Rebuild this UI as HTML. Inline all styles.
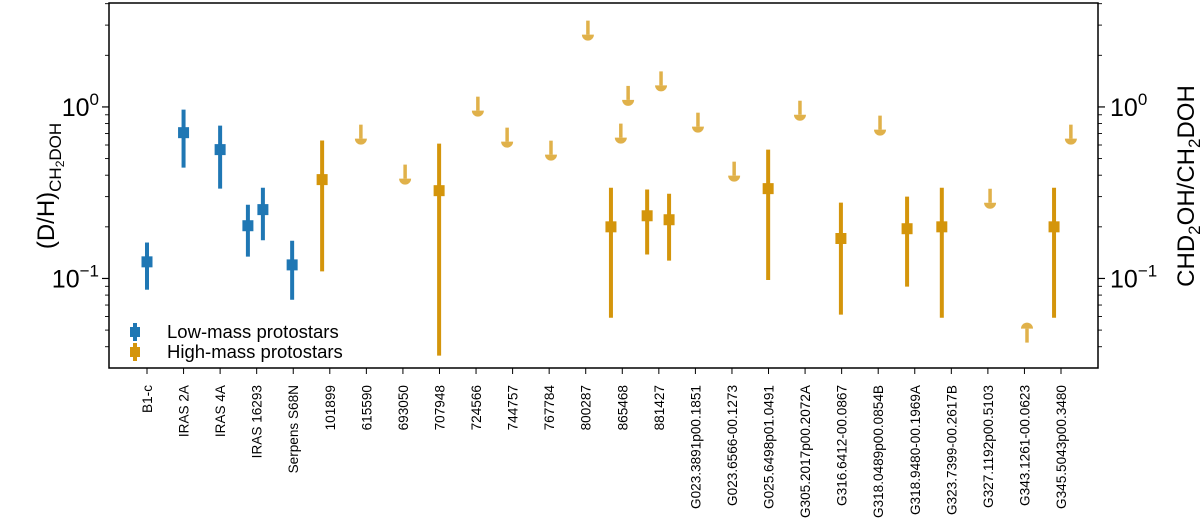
<!DOCTYPE html>
<html><head><meta charset="utf-8"><style>
html,body{margin:0;padding:0;background:#fff;}
svg{display:block;font-family:"Liberation Sans","DejaVu Sans",sans-serif;}
</style></head><body>
<svg id="chart" width="1200" height="527"></svg>
<script>
const categories=["B1-c","IRAS 2A","IRAS 4A","IRAS 16293","Serpens S68N","101899","615590","693050","707948","724566","744757","767784","800287","865468","881427","G023.3891p00.1851","G023.6566-00.1273","G025.6498p01.0491","G305.2017p00.2072A","G316.6412-00.0867","G318.0489p00.0854B","G318.9480-00.1969A","G323.7399-00.2617B","G327.1192p00.5103","G343.1261-00.0623","G345.5043p00.3480"];
const lowPos=[0,1,2,2.76,3.17,3.97];
const lowVal=[0.125,0.708,0.564,0.203,0.252,0.120];
const lowLo=[0.086,0.443,0.334,0.134,0.167,0.0752];
const lowHi=[0.162,0.965,0.778,0.269,0.338,0.166];
const highPos=[4.79,7.99,12.69,13.68,14.28,16.99,18.98,20.79,21.74,24.81];
const highVal=[0.377,0.325,0.200,0.232,0.220,0.334,0.171,0.195,0.200,0.200];
const highLo=[0.110,0.0355,0.059,0.138,0.127,0.098,0.0615,0.0896,0.059,0.059];
const highHi=[0.637,0.611,0.338,0.330,0.312,0.564,0.277,0.300,0.338,0.338];
const ulPos=[5.85,7.06,9.05,9.85,11.05,12.06,12.96,13.16,14.06,15.07,16.06,17.86,20.05,23.06,25.27];
const ulVal=[0.636,0.372,0.926,0.611,0.513,2.57,0.645,1.07,1.30,0.747,0.387,0.877,0.718,0.269,0.636];
const llPos=[24.07];
const llVal=[0.0524];

const NS="http://www.w3.org/2000/svg";
const svg=document.getElementById('chart');
const L=109,R=1098,T=3,B=368;
const yMax=0.606,yMin=-1.522;
function y(v){return T+(yMax-Math.log10(v))/(yMax-yMin)*(B-T);}
function x(p){return 147+36.56*p;}
function el(tag,attrs,parent){const e=document.createElementNS(NS,tag);for(const k in attrs)e.setAttribute(k,attrs[k]);(parent||svg).appendChild(e);return e;}
const BLUE="#1f77b4",GOLD="#d4950b",LIGHT="#e0b14a";

function errbar(px,v,lo,hi,col,name){
  const g=el('g',{});
  
  
  el('line',{x1:x(px),x2:x(px),y1:y(lo),y2:y(hi),stroke:col,'stroke-width':4},g);
  el('rect',{x:x(px)-5.5,y:y(v)-5.5,width:11,height:11,fill:col},g);
}
for(let i=0;i<lowPos.length;i++)errbar(lowPos[i],lowVal[i],lowLo[i],lowHi[i],BLUE,'low-mass-point');
for(let i=0;i<highPos.length;i++)errbar(highPos[i],highVal[i],highLo[i],highHi[i],GOLD,'high-mass-point');
function arrow(px,v,dir,name){
  const g=el('g',{});
  
  
  const cx=x(px),cy=y(v)-dir*2;
  el('line',{x1:cx,x2:cx,y1:cy,y2:cy-dir*14,stroke:LIGHT,'stroke-width':3.5},g);
  el('path',{d:`M${cx-6},${cy} A6,6 0 0 ${dir>0?0:1} ${cx+6},${cy} Z`,fill:LIGHT},g);
}
for(let i=0;i<ulPos.length;i++)arrow(ulPos[i],ulVal[i],1,'upper-limit-arrow');
for(let i=0;i<llPos.length;i++)arrow(llPos[i],llVal[i],-1,'lower-limit-arrow');

const frame=el('rect',{x:L,y:T,width:R-L,height:B-T,fill:'none',stroke:'#000','stroke-width':1.5});


for(let d=-2;d<=0;d++){for(let m=1;m<10;m++){const v=m*Math.pow(10,d);const lv=Math.log10(v);if(lv<yMin||lv>yMax)continue;const len=m===1?7:4;const yy=y(v);
  el('line',{x1:L-len,x2:L,y1:yy,y2:yy,stroke:'#000','stroke-width':m===1?1.2:0.9});
  el('line',{x1:R,x2:R+len,y1:yy,y2:yy,stroke:'#000','stroke-width':m===1?1.2:0.9});}}
const yTicks=[1,0.1];const yTickText=["0","−1"];
for(let i=0;i<yTicks.length;i++){const yy=y(yTicks[i]);
  const t=el('text',{x:L-10,y:yy+9,'text-anchor':'end','font-size':25});
  t.innerHTML=`10<tspan dy="-11" font-size="17">${yTickText[i]}</tspan>`;
  const t2=el('text',{x:R+12,y:yy+9,'text-anchor':'start','font-size':25});
  t2.innerHTML=`10<tspan dy="-11" font-size="17">${yTickText[i]}</tspan>`;}
for(let i=0;i<categories.length;i++){const xx=x(i);
  el('line',{x1:xx,x2:xx,y1:B,y2:B+6,stroke:'#000','stroke-width':1});
  const t=el('text',{transform:`translate(${xx+5},385) rotate(-90)`,'text-anchor':'end','font-size':13.6});
  
  
  t.textContent=categories[i];}
const yl=el('text',{transform:'translate(54,186) rotate(-90)','text-anchor':'middle','font-size':24});

yl.innerHTML='(D/H)<tspan dy="7" font-size="17">CH</tspan><tspan dy="3" font-size="12">2</tspan><tspan dy="-3" font-size="17">DOH</tspan>';
const yr=el('text',{transform:'translate(1194,186) rotate(-90)','text-anchor':'middle','font-size':24});

yr.innerHTML='CHD<tspan dy="6" font-size="17">2</tspan><tspan dy="-6">OH/CH</tspan><tspan dy="6" font-size="17">2</tspan><tspan dy="-6">DOH</tspan>';
const lg=el('g',{});
const legNames=["Low-mass protostars","High-mass protostars"];const legCols=[BLUE,GOLD];
for(let i=0;i<2;i++){const yy=332+20*i;
  const e=el('g',{},lg);
  el('line',{x1:135,x2:135,y1:yy-9,y2:yy+9,stroke:legCols[i],'stroke-width':4},e);
  el('rect',{x:130,y:yy-5,width:10,height:10,fill:legCols[i]},e);
  const t=el('text',{x:167,y:yy+6,'font-size':18.5},e);t.textContent=legNames[i];}
</script>
</body></html>
